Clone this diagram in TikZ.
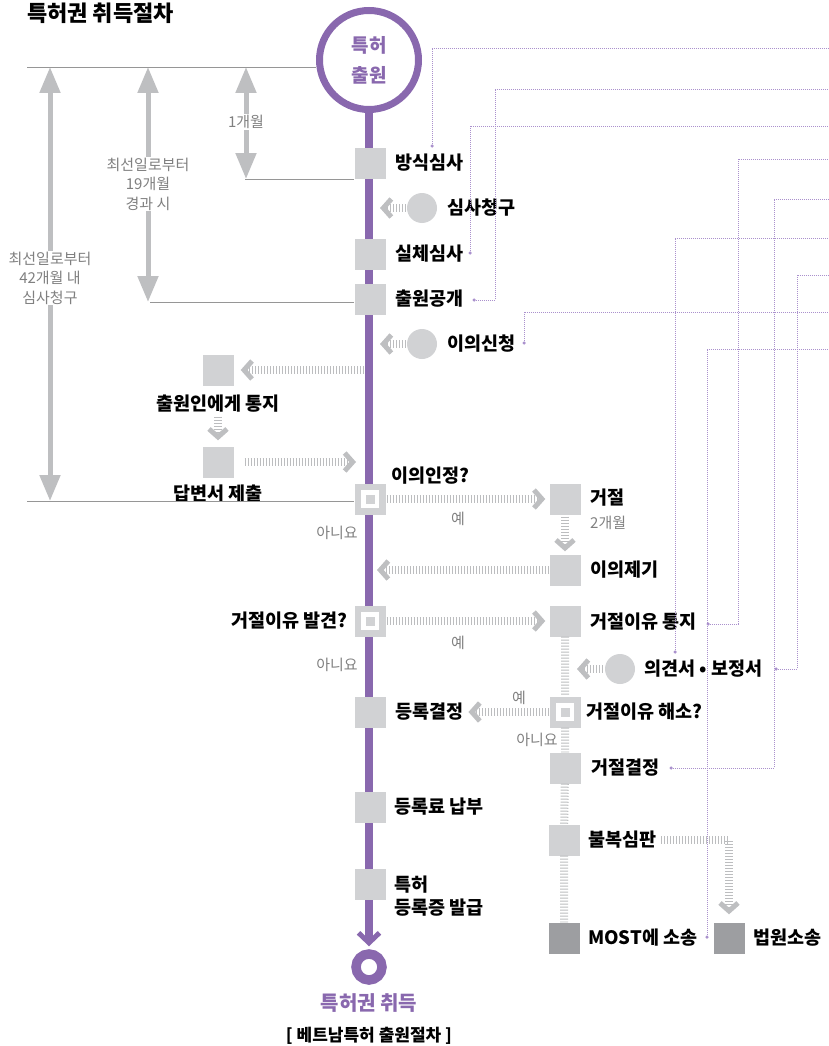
\documentclass[tikz,border=0pt]{standalone}
\usepackage{fontspec}
\setmainfont{Noto Sans CJK KR}
\usetikzlibrary{arrows.meta}
\definecolor{patpurple}{RGB}{137,104,174}
\definecolor{boxgray}{RGB}{209,210,212}
\definecolor{darkgray}{RGB}{157,158,161}
\definecolor{arrowgray}{RGB}{190,191,193}
\definecolor{stripegray}{RGB}{188,189,191}
\definecolor{notegray}{RGB}{128,128,128}
\definecolor{dotpurple}{RGB}{170,145,205}
\definecolor{guidegray}{RGB}{150,150,150}

\begin{document}
\begin{tikzpicture}[x=1pt,y=-1pt,
  box/.style={fill=boxgray,minimum size=31pt,inner sep=0pt},
  darkbox/.style={box,fill=darkgray},
  decide/.style={box,path picture={
    \fill[white] ([shift={(-9pt,-9pt)}]path picture bounding box.center) rectangle ([shift={(9pt,9pt)}]path picture bounding box.center);
    \fill[boxgray] ([shift={(-4.5pt,-4.5pt)}]path picture bounding box.center) rectangle ([shift={(4.5pt,4.5pt)}]path picture bounding box.center);}},
  bubble/.style={circle,fill=boxgray,minimum size=30pt,inner sep=0pt},
  lbl/.style={anchor=west,inner sep=0pt,font=\bfseries\fontsize{18.5}{23}\selectfont},
  note/.style={text=notegray,inner sep=0pt,font=\fontsize{15}{19.5}\selectfont},
  guide/.style={draw=guidegray,line width=0.9pt},
  dimarrow/.style={draw=arrowgray,line width=5pt,{Triangle[length=26pt,width=20pt]}-{Triangle[length=26pt,width=20pt]}},
  track/.style={draw=stripegray,line width=8pt,dash pattern=on 1pt off 2pt},
  stripes/.style={track,-{Straight Barb[length=8pt,width=18pt,line width=5pt,color=arrowgray]}},
  spine/.style={draw=patpurple,line width=8pt,-{Straight Barb[length=10pt,width=21pt,line width=5pt]}},
  dotline/.style={draw=dotpurple,line width=0.8pt,dash pattern=on 0.8pt off 1.2pt},
  pdot/.style={circle,fill=dotpurple,inner sep=0pt,minimum size=3.5pt}]
\useasboundingbox (0,0) rectangle (828,1046);
\node[anchor=west,inner sep=0pt,font=\bfseries\fontsize{22}{26}\selectfont] (title) at (27,13) {특허권 취득절차};
\node[circle,draw=patpurple,line width=7pt,minimum size=99pt,fill=white,text=patpurple,align=center,font=\bfseries\fontsize{19}{30}\selectfont] (apply) at (369,60) {특허\\출원};
\node[circle,draw=patpurple,line width=9.5pt,minimum size=26pt,inner sep=0pt] (goal) at (369,967) {};
\draw[spine,shorten >=3pt] (apply) -- (goal);
\node[text=patpurple,font=\bfseries\fontsize{20}{22}\selectfont] (goallbl) at (369,1003) {특허권 취득};
\node[font=\bfseries\fontsize{17}{20}\selectfont] (caption) at (369,1036) {[ 베트남특허 출원절차 ]};

\coordinate (g1) at (27,67);
\coordinate (g2) at (245,179);
\coordinate (g3) at (150,302);
\coordinate (g4) at (27,501);
\coordinate (t42) at (50,67);
\coordinate (b42) at (50,501);
\coordinate (t19) at (148,67);
\coordinate (b19) at (148,302);
\coordinate (t1) at (246,67);
\coordinate (b1) at (246,179);
\draw[guide] (g1) -- (g1 -| apply.west);
\draw[dimarrow] (t42) -- (b42);
\draw[dimarrow] (t19) -- (b19);
\draw[dimarrow] (t1) -- (b1);
\node[note,fill=white,align=center,inner sep=1pt] (m42) at (50,278) {최선일로부터\\42개월 내\\심사청구};
\node[note,fill=white,align=center,inner sep=1pt] (m19) at (148,184) {최선일로부터\\19개월\\경과 시};
\node[note,fill=white,inner sep=1pt] (m1) at (246,122) {1개월};

\node[box] (formal) at (370,163) {};
\node[lbl] (formallbl) at (395,163) {방식심사};
\node[bubble] (req) at (422,208) {};
\node[lbl] (reqlbl) at (447,208) {심사청구};
\node[box] (subst) at (370,254) {};
\node[lbl] (substlbl) at (395,254) {실체심사};
\node[box] (pub) at (370,299) {};
\node[lbl] (publbl) at (395,299) {출원공개};
\node[bubble] (oppose) at (422,344) {};
\node[lbl] (opposelbl) at (447,344) {이의신청};
\draw[guide] (g2) -- (g2 -| formal.west);
\draw[guide] (g3) -- (g3 -| pub.west);

\node[box] (notice) at (218,370) {};
\node[lbl,anchor=center] (noticelbl) at (218,404) {출원인에게 통지};
\node[box] (reply) at (218,462) {};
\node[lbl,anchor=center] (replylbl) at (218,494) {답변서 제출};

\node[decide] (obj) at (370,499) {};
\node[lbl] (objlbl) at (391,476) {이의인정?};
\draw[guide] (g4) -- (g4 -| obj.west);
\node[note] (yes1) at (458,519) {예};
\node[note] (no1) at (337,533) {아니요};
\node[decide] (find) at (370,621) {};
\node[lbl,anchor=east] (findlbl) at (348,621) {거절이유 발견?};
\node[note] (yes2) at (458,643) {예};
\node[note] (no2) at (337,665) {아니요};
\node[box] (grant) at (370,712) {};
\node[lbl] (grantlbl) at (395,712) {등록결정};
\node[box] (fee) at (370,807) {};
\node[lbl] (feelbl) at (394,807) {등록료 납부};
\node[box] (cert) at (370,884) {};
\node[lbl,align=left] (certlbl) at (394,896) {특허\\등록증 발급};

\node[box] (reject) at (565,499) {};
\node[lbl] (rejectlbl) at (590,498) {거절};
\node[note,anchor=west] (twomonth) at (590,523) {2개월};
\node[box] (objection) at (565,570) {};
\node[lbl] (objectionlbl) at (590,570) {이의제기};
\node[box] (notify) at (565,621) {};
\node[lbl] (notifylbl) at (590,622) {거절이유 통지};
\node[bubble] (opinion) at (620,669) {};
\node[lbl] (opinionlbl) at (644,669) {의견서 • 보정서};
\node[decide] (resolve) at (565,712) {};
\node[lbl] (resolvelbl) at (586,712) {거절이유 해소?};
\node[note] (yes3) at (519,698) {예};
\node[note] (no3) at (537,740) {아니요};
\node[box] (refusal) at (565,768) {};
\node[lbl] (refusallbl) at (591,768) {거절결정};
\node[box] (trial) at (564,840) {};
\node[lbl] (triallbl) at (588,840) {불복심판};
\node[darkbox] (most) at (564,938) {};
\node[lbl] (mostlbl) at (588,938) {MOST에 소송};
\node[darkbox] (court) at (729,938) {};
\node[lbl] (courtlbl) at (753,938) {법원소송};

\coordinate (s0) at (373,208);
\coordinate (s1) at (364,370);
\coordinate (s2) at (364,462);
\coordinate (s3) at (373,570);
\coordinate (s4) at (373,344);
\coordinate (c1) at (570,669);
\draw[stripes,shorten <=1pt,shorten >=7pt] (req.west) -- (s0);
\draw[stripes,shorten <=1pt,shorten >=7pt] (oppose.west) -- (s4);
\draw[stripes,shorten >=7pt] (s1) -- (notice.east);
\draw[stripes,shorten <=4pt,shorten >=6pt] (noticelbl.south) -- (reply.north);
\draw[stripes,shorten <=11pt,shorten >=8pt] (reply.east) -- (s2);
\draw[stripes,shorten <=1pt,shorten >=4pt] (obj.east) -- (reject.west);
\draw[stripes,shorten <=2pt,shorten >=3pt] (reject.south) -- (objection.north);
\draw[stripes,shorten >=4pt] (objection.west) -- (s3);
\draw[stripes,shorten <=1pt,shorten >=4pt] (find.east) -- (notify.west);
\draw[track] (notify) -- (resolve) (resolve) -- (refusal) (refusal) -- (trial) (trial) -- (most);
\draw[stripes,shorten <=2pt,shorten >=7pt] (opinion.west) -- (c1);
\draw[stripes,shorten >=5pt] (resolve.west) -- (resolve.west -| grantlbl.east);
\draw[stripes,shorten <=5pt,shorten >=8pt] (triallbl.east) -| (court.north);

\node[pdot] (d1) at (432,146) {};
\node[pdot] (d2) at (470,253) {};
\node[pdot] (d3) at (474,300) {};
\node[pdot] (d4) at (708,624) {};
\node[pdot] (d5) at (671,768) {};
\node[pdot] (d6) at (675,652) {};
\node[pdot] (d7) at (776,669) {};
\node[pdot] (d8) at (524,343) {};
\node[pdot] (d9) at (707,937) {};
\coordinate (k3) at (495,89);
\coordinate (k4) at (738,159);
\coordinate (k5) at (774,199);
\coordinate (k7) at (797,275);
\coordinate (e1) at (828,48);
\coordinate (e2) at (828,126);
\coordinate (e3) at (828,89);
\coordinate (e4) at (828,159);
\coordinate (e5) at (828,199);
\coordinate (e6) at (828,238);
\coordinate (e7) at (828,275);
\coordinate (e8) at (828,312);
\coordinate (e9) at (828,349);
\draw[dotline] (d1) |- (e1);
\draw[dotline] (d2) |- (e2);
\draw[dotline] (d3) -| (k3) -- (e3);
\draw[dotline] (d4) -| (k4) -- (e4);
\draw[dotline] (d5) -| (k5) -- (e5);
\draw[dotline] (d6) |- (e6);
\draw[dotline] (d7) -| (k7) -- (e7);
\draw[dotline] (d8) |- (e8);
\draw[dotline] (d9) |- (e9);
\end{tikzpicture}
\end{document}
